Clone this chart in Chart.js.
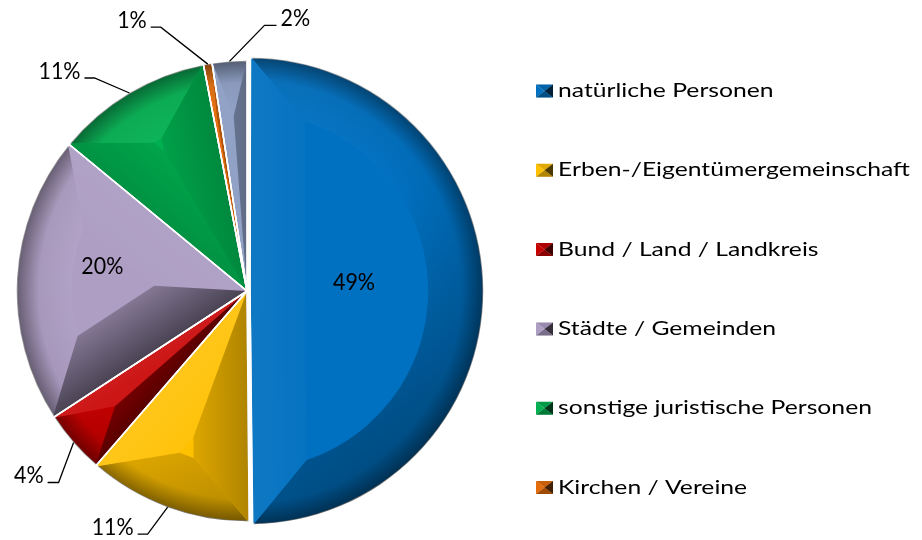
<!DOCTYPE html>
<html><head><meta charset="utf-8">
<script src="https://cdn.jsdelivr.net/npm/chart.js@4.4.1/dist/chart.umd.min.js"></script>
<style>html,body{margin:0;padding:0;background:#fff;}canvas{display:block;}</style>
</head><body>
<canvas id="c" width="922" height="540"></canvas>
<script>
// ---- data ----
const categories = ['natürliche Personen','Erben-/Eigentümergemeinschaft','Bund / Land / Landkreis','Städte / Gemeinden','sonstige juristische Personen','Kirchen / Vereine','Sonstige'];
const shares = [49.4, 11.4, 4.4, 20.0, 10.9, 0.6, 2.4];
const legendCount = 6;
// ---- style ----
const sliceColors = ['#0070C0','#FFC000','#C80000','#AE9EC4','#00B050','#E46C0A','#8C9EC4'];
const sliceOffsets = [12,0,0,0,0,0,0];
// label placement: inside labels (r, turn in degrees) or leader-line labels (elbow dx, dy, horizontal run)
const labelPlacement = [
  {inside:true, r:104.5, turn:-5.2},
  {ex:-20, ey:27, hx:-10},
  {ex:-15, ey:40, hx:-11},
  {inside:true, r:147, turn:7},
  {ex:-35, ey:-15, hx:-10},
  {ex:-47, ey:-37, hx:-10},
  {ex:35, ey:-36, hx:12}
];
const FONT = 'Lato, "Open Sans", sans-serif';
const BEVEL = 55;
const LIGHT = (()=>{const x=-0.55,y=-0.83,n=Math.hypot(x,y);return [x/n,y/n];})();

function overlay(s,k){
  if (s>=0) return 'rgba(255,255,255,'+Math.min(0.3,0.1*s*k).toFixed(3)+')';
  return 'rgba(0,0,0,'+Math.min(0.75,0.55*(-s)*k).toFixed(3)+')';
}
function arcGeom(arc){
  const p = arc.getProps(['x','y','startAngle','endAngle','outerRadius','circumference'], true);
  const off = (arc.options.offset||0)/4;
  const mid = (p.startAngle+p.endAngle)/2;
  const fix = 1-Math.sin(Math.min(Math.PI, p.circumference||0));
  return {cx:p.x+Math.cos(mid)*off, cy:p.y+Math.sin(mid)*off, a0:p.startAngle, a1:p.endAngle, mid, R:p.outerRadius+off*fix};
}

const bevelPlugin = {
  id:'bevel',
  afterDatasetsDraw(chart){
    const ctx = chart.ctx;
    const meta = chart.getDatasetMeta(0);
    meta.data.forEach(arc=>{
      const {cx,cy,a0,a1,mid,R} = arcGeom(arc);
      const P=(a,r)=>[cx+Math.cos(a)*r, cy+Math.sin(a)*r];
      const h=(a1-a0)/2, w=BEVEL, inner=R-w;
      const d = w/Math.sin(Math.min(h,Math.PI/2));
      let A,S,E,collapsed=false;
      if (d>=inner){A=P(mid,inner);S=A;E=A;collapsed=true;}
      else {
        A=P(mid,d); const t=Math.sqrt(inner*inner-w*w);
        S=[cx+Math.cos(a0)*t+Math.cos(a0+Math.PI/2)*w, cy+Math.sin(a0)*t+Math.sin(a0+Math.PI/2)*w];
        E=[cx+Math.cos(a1)*t+Math.cos(a1-Math.PI/2)*w, cy+Math.sin(a1)*t+Math.sin(a1-Math.PI/2)*w];
      }
      ctx.save();
      ctx.beginPath(); ctx.moveTo(cx,cy); ctx.arc(cx,cy,R,a0,a1); ctx.closePath(); ctx.clip();
      // rim face
      ctx.beginPath(); ctx.arc(cx,cy,R+2,a0,a1);
      if (collapsed) ctx.lineTo(A[0],A[1]);
      else { ctx.lineTo(E[0],E[1]); ctx.arc(cx,cy,inner,Math.atan2(E[1]-cy,E[0]-cx),Math.atan2(S[1]-cy,S[0]-cx),true); }
      ctx.closePath();
      const cg = ctx.createConicGradient(0,cx,cy);
      for (let k=0;k<=36;k++){const th=k/36*2*Math.PI; const s=Math.cos(th)*LIGHT[0]+Math.sin(th)*LIGHT[1]; cg.addColorStop(k/36, overlay(s,0.5));}
      ctx.fillStyle=cg; ctx.fill();
      const rg = ctx.createRadialGradient(cx,cy,Math.max(0,inner),cx,cy,R);
      rg.addColorStop(0,'rgba(0,0,0,0)'); rg.addColorStop(0.6,'rgba(0,0,0,0.05)'); rg.addColorStop(1,'rgba(0,0,0,0.42)');
      ctx.fillStyle=rg; ctx.fill();
      // edge faces
      [[a0,S,-1],[a1,E,1]].forEach(([a,Q,sg])=>{
        const na=a+sg*Math.PI/2, n=[Math.cos(na),Math.sin(na)];
        const s=n[0]*LIGHT[0]+n[1]*LIGHT[1];
        const Pe=P(a,R+2);
        ctx.beginPath(); ctx.moveTo(cx,cy); ctx.lineTo(Pe[0],Pe[1]); ctx.lineTo(Q[0],Q[1]); ctx.lineTo(A[0],A[1]); ctx.closePath();
        const lg=ctx.createLinearGradient(cx,cy,cx-n[0]*w,cy-n[1]*w);
        lg.addColorStop(0,overlay(s,1.05)); lg.addColorStop(1,overlay(s,0.45));
        ctx.fillStyle=lg; ctx.fill();
      });
      ctx.restore();
    });
    ctx.save(); ctx.strokeStyle='#ffffff'; ctx.lineWidth=1.5;
    meta.data.forEach(arc=>{
      const {cx,cy,a0,a1,R}=arcGeom(arc);
      ctx.beginPath();
      ctx.moveTo(cx,cy); ctx.lineTo(cx+Math.cos(a0)*R, cy+Math.sin(a0)*R);
      ctx.moveTo(cx,cy); ctx.lineTo(cx+Math.cos(a1)*R, cy+Math.sin(a1)*R);
      ctx.stroke();
    });
    ctx.restore();
  }
};

function scaledText(ctx,text,x,y,sx,align){
  ctx.save(); ctx.translate(x,y); ctx.scale(sx,1); ctx.textAlign=align; ctx.textBaseline='alphabetic'; ctx.fillText(text,0,0); ctx.restore();
}

const labelPlugin = {
  id:'pctLabels',
  afterDraw(chart){
    const ctx=chart.ctx; const meta=chart.getDatasetMeta(0);
    ctx.save();
    ctx.font='24px '+FONT; ctx.fillStyle='#000';
    const sx = 42/ctx.measureText('49%').width;
    const capH = 8.5;
    meta.data.forEach((arc,i)=>{
      const {cx,cy,mid,R}=arcGeom(arc);
      const txt=Math.round(shares[i])+'%';
      const lp=labelPlacement[i];
      if (lp.inside){
        const a=mid+lp.turn*Math.PI/180;
        scaledText(ctx,txt,cx+Math.cos(a)*lp.r, cy+Math.sin(a)*lp.r+capH, sx,'center');
      } else {
        const rx=cx+Math.cos(mid)*R, ry=cy+Math.sin(mid)*R;
        const exx=rx+lp.ex, eyy=ry+lp.ey, hx=exx+lp.hx;
        ctx.strokeStyle='#000'; ctx.lineWidth=1.3;
        ctx.beginPath(); ctx.moveTo(rx,ry); ctx.lineTo(exx,eyy); ctx.lineTo(hx,eyy); ctx.stroke();
        const gap=lp.hx<0?-4:4;
        scaledText(ctx,txt,hx+gap,eyy+1,sx,lp.hx<0?'right':'left');
      }
    });
    // legend
    ctx.font='20px '+FONT;
    let longest=0; for(let i=0;i<legendCount;i++) longest=Math.max(longest,ctx.measureText(categories[i]).width);
    const lsx = 352/longest;
    const bx=536,bw=17,bh=13,top=91,pitch=79.3;
    for(let i=0;i<legendCount;i++){
      const yc=top+i*pitch, x=bx, y=yc-bh/2, c=[x+bw/2,yc];
      const tri=(p1,p2,fill)=>{ctx.beginPath();ctx.moveTo(p1[0],p1[1]);ctx.lineTo(p2[0],p2[1]);ctx.lineTo(c[0],c[1]);ctx.closePath();ctx.fillStyle=fill;ctx.fill();};
      const col=sliceColors[i];
      tri([x,y],[x,y+bh],col);
      tri([x,y],[x+bw,y],col); tri([x,y],[x+bw,y],'rgba(0,0,0,0.12)');
      tri([x,y+bh],[x+bw,y+bh],col); tri([x,y+bh],[x+bw,y+bh],'rgba(0,0,0,0.3)');
      tri([x+bw,y],[x+bw,y+bh],col); tri([x+bw,y],[x+bw,y+bh],'rgba(0,0,0,0.7)');
      ctx.fillStyle='#000';
      scaledText(ctx,categories[i],558,yc+6,lsx,'left');
    }
    ctx.restore();
  }
};

new Chart(document.getElementById('c'),{
  type:'pie',
  data:{labels:categories, datasets:[{data:shares, backgroundColor:sliceColors, borderColor:'#ffffff', borderWidth:1.5, hoverBorderWidth:1.5, offset:sliceOffsets}]},
  options:{
    responsive:false, animation:false,
    layout:{padding:{top:54,bottom:12,left:10,right:438}},
    plugins:{legend:{display:false}, tooltip:{enabled:false}}
  },
  plugins:[bevelPlugin,labelPlugin]
});
</script>
</body></html>
